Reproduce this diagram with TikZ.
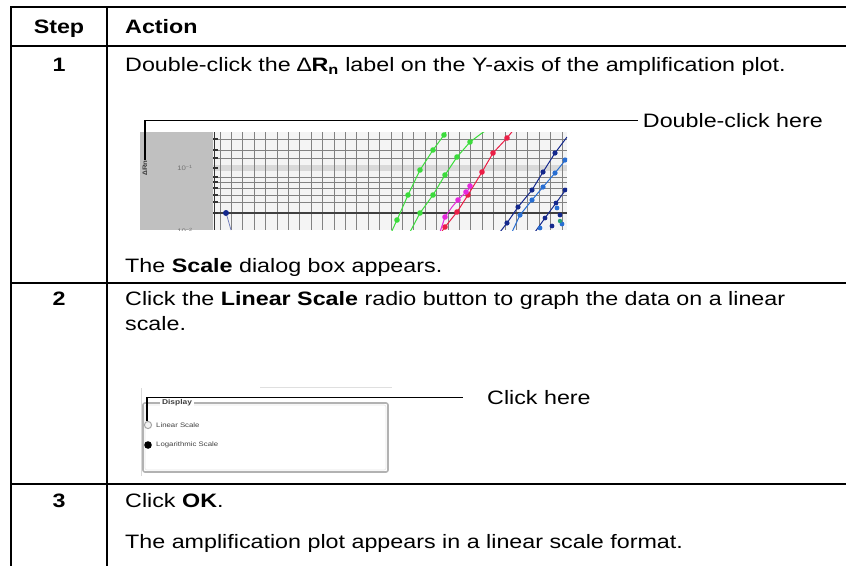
\documentclass[tikz,border=0pt]{standalone}
\usepackage{fontspec}
\setmainfont{Liberation Sans}[FakeStretch=1.2]
\definecolor{shotgray}{RGB}{192,192,192}
\definecolor{gridbg}{RGB}{244,244,244}
\definecolor{gline}{RGB}{130,130,130}
\definecolor{cgreen}{RGB}{60,220,60}
\definecolor{cred}{RGB}{235,30,70}
\definecolor{cmag}{RGB}{230,40,220}
\definecolor{cblue}{RGB}{20,40,140}
\definecolor{cblue2}{RGB}{40,110,210}
\definecolor{cteal}{RGB}{40,160,120}
\begin{document}
\begin{tikzpicture}[x=1pt,y=-1pt,
  rule/.style={line width=1.6pt},
  body/.style={font=\fontsize{19.4}{23}\selectfont, inner sep=0pt, anchor=base west},
  num/.style={font=\fontsize{19.4}{23}\selectfont\bfseries, inner sep=0pt, anchor=base},
  leader/.style={line width=1.1pt},
  tinytext/.style={font=\fontsize{6.5}{7}\selectfont, inner sep=0pt, text=black!75},
  dotline/.style={line width=1pt}
]
\useasboundingbox (0,0) rectangle (846,566);
% ---- table rules
\draw[rule] (846,7) -- (11,7) -- (11,566);
\draw[rule] (107,7) -- (107,566);
\foreach \yy in {46,283,484} \draw[rule] (11,\yy) -- (846,\yy);
% ---- header
\node[num] (hstep) at (59,33) {Step};
\node[body,font=\fontsize{19.4}{23}\selectfont\bfseries] (hact) at (125,33) {Action};
% ---- row 1
\node[num] (n1) at (59,71) {1};
\node[body] (t1) at (125,71) {Double-click the ∆\textbf{R\textsubscript{n}} label on the Y-axis of the amplification plot.};
\node[body,anchor=base east] (dch) at (823,127) {Double-click here};
\node[body] (t1b) at (125,272) {The \textbf{Scale} dialog box appears.};
% ---- screenshot 1
\begin{scope}
\clip (140,132) rectangle (567,230);
\fill[shotgray] (140,132) rectangle (213,230);
\fill[gridbg] (213,132) rectangle (567,230);
\fill[gray!30] (213,165) rectangle (567,171);
\foreach \xx in {220,231.4,...,567} \draw[gline, line width=0.9pt] (\xx,132) -- (\xx,230);
\foreach \yy in {139,150,158,177,182,188,195,202} \draw[gline, line width=0.8pt] (213,\yy) -- (567,\yy);
\draw[black!75, line width=1.3pt] (213,213) -- (567,213);
\draw[black!80, line width=1pt] (214,132) -- (214,230);
\foreach \yy in {139,150,158,168,177,182,188,195,202,213} \draw[black!80, line width=1.2pt] (213,\yy) -- (218,\yy);
\node[tinytext, rotate=90, font=\fontsize{6.5}{7}\selectfont\bfseries] (dlab) at (145,168) {∆Rn};
\node[tinytext, text=black!55] (dec1) at (185,168) {10\textsuperscript{−1}};
\node[tinytext, text=black!55] (dec2) at (185,231) {10\textsuperscript{−2}};
% curves
\draw[cgreen,dotline] (390,235) -- (397,220) -- (408,195) -- (420,170) -- (433,150) -- (444,135) -- (450,125);
\foreach \p in {(397,220),(408,195),(420,170),(433,150),(444,135)} \fill[cgreen] \p circle (2.8);
\draw[cgreen,dotline] (410,232) -- (420,213) -- (433,195) -- (445,175) -- (457,157) -- (470,142) -- (482,133) -- (490,128);
\foreach \p in {(420,213),(433,195),(445,175),(457,157),(470,142)} \fill[cgreen] \p circle (2.8);
\draw[cred,dotline] (440,234) -- (445,227) -- (457,212) -- (468,195) -- (482,172) -- (493,153) -- (507,138) -- (515,128);
\foreach \p in {(445,227),(457,212),(468,195),(482,172),(493,153),(507,138)} \fill[cred] \p circle (2.8);
\draw[cmag,dotline] (440,232) -- (445,217) -- (452,207) -- (458,200) -- (470,188);
\foreach \p in {(445,217),(458,200),(466,192),(470,186)} \fill[cmag] \p circle (2.8);
\draw[cblue,dotline] (500,232) -- (507,223) -- (518,207) -- (532,190) -- (543,172) -- (555,153) -- (567,137);
\foreach \p in {(507,223),(518,207),(532,190),(543,172),(555,153)} \fill[cblue] \p circle (2.6);
\draw[cblue2,dotline] (512,232) -- (520,215) -- (532,200) -- (543,187) -- (555,173) -- (567,158);
\foreach \p in {(520,215),(532,200),(543,187),(555,173),(565,160)} \fill[cblue2] \p circle (2.6);
\draw[cblue,dotline] (535,232) -- (545,218) -- (556,203) -- (567,188);
\foreach \p in {(545,218),(556,203),(565,190),(552,226),(560,215)} \fill[cblue] \p circle (2.4);
\foreach \p in {(540,228),(562,224),(557,208)} \fill[cblue2] \p circle (2.4);
\fill[cteal] (560,221) circle (2.2);
\fill[cblue] (226,213) circle (3);
\draw[cblue!60, line width=0.8pt] (227,216) -- (231,230);
\end{scope}
\coordinate (lead1) at (145,160);
\draw[leader] (lead1) |- ([xshift=-5pt]dch.west);
% ---- row 2
\node[num] (n2) at (59,305) {2};
\node[body] (t2) at (125,305) {Click the \textbf{Linear Scale} radio button to graph the data on a linear};
\node[body] (t2b) at (125,330) {scale.};
\node[body] (ch) at (487,404) {Click here};
% ---- screenshot 2 (dialog)
\draw[gray!25, line width=0.8pt] (260,387) -- (392,387);
\draw[gray!30, line width=0.8pt] (141,388) -- (141,476);
\draw[gray!60, line width=1.6pt, rounded corners=2pt] (143,403) rectangle (388,472);
\draw[gray!20, line width=0.6pt, rounded corners=2pt] (145,405) rectangle (386,470);
\node[tinytext, fill=white, inner xsep=2pt, font=\fontsize{7}{8}\selectfont\bfseries] (disp) at (177,403) {Display};
\draw[gray!70, line width=1pt, fill=gray!10] (148,425) circle (3.6);
\node[tinytext, anchor=west] (lin) at (156,425) {Linear Scale};
\fill[black] (148,445) circle (3.8);
\node[tinytext, anchor=west] (log) at (156,445) {Logarithmic Scale};
\coordinate (lead2) at (147,421);
\draw[leader] (lead2) |- ([xshift=-24pt]ch.west);
% ---- row 3
\node[num] (n3) at (59,507) {3};
\node[body] (t3) at (125,507) {Click \textbf{OK}.};
\node[body] (t3b) at (125,548) {The amplification plot appears in a linear scale format.};
\end{tikzpicture}
\end{document}
